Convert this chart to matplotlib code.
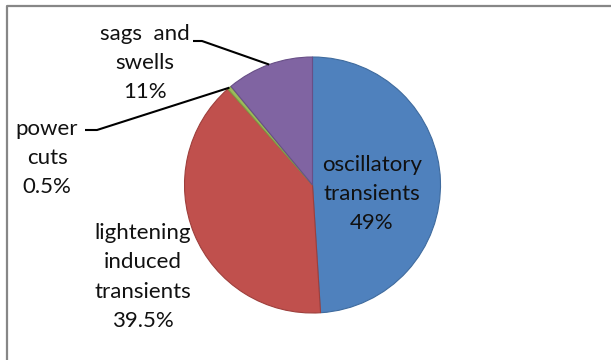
import numpy as np
import matplotlib
matplotlib.use("Agg")
import matplotlib.pyplot as plt

# Datos del gráfico
labels = ["oscillatory\ntransients", "lightening\ninduced\ntransients", "power\ncuts", "sags  and\nswells"]
pct_text = ["49%", "39.5%", "0.5%", "11%"]
values = [49, 39.5, 0.5, 11]
colors = ["#4F81BD", "#C0504D", "#9BBB59", "#8064A2"]
edges = ["#3f6b9e", "#9e3f3c", "#7f9c45", "#684f87"]

plt.rcParams["font.family"] = ["Lato", "DejaVu Sans"]

W, H = 611, 360
fig = plt.figure(figsize=(W / 100, H / 100), dpi=100)
ax = fig.add_axes([0, 0, 1, 1])

cx, cy, r = 312.5, 175, 128
wedges, _ = ax.pie(values, colors=colors, startangle=90, counterclock=False,
                   center=(cx, cy), radius=r, frame=True,
                   wedgeprops=dict(linewidth=0.8))
for w, ec in zip(wedges, edges):
    w.set_edgecolor(ec)
ax.set_xlim(0, W)
ax.set_ylim(0, H)
ax.set_aspect("equal")
ax.axis("off")

# Etiquetas (posiciones en píxeles, y hacia arriba)
label_pos = [(372, 166), (143, 83), (47, 202), (145, 297)]
fs = 16
for lab, p, (x, y) in zip(labels, pct_text, label_pos):
    ax.text(x, y, lab + "\n" + p, ha="center", va="center", fontsize=fs,
            linespacing=1.58, color="#111111")

# Líneas guía hacia las porciones pequeñas
def anchor(w):
    a = np.deg2rad((w.theta1 + w.theta2) / 2)
    return cx + r * np.cos(a), cy + r * np.sin(a)

ax_, ay_ = anchor(wedges[2])
ax.plot([85, 97, ax_], [230, 230, ay_], color="black", lw=1.5, solid_capstyle="butt")
ax_, ay_ = anchor(wedges[3])
ax.plot([193, 202, ax_], [319, 319, ay_], color="black", lw=1.5, solid_capstyle="butt")

# Marco del gráfico
ax.plot([7, 7, W], [0, 354, 354], color="#878787", lw=1.6, clip_on=False)

fig.savefig("out.png", dpi=100)
